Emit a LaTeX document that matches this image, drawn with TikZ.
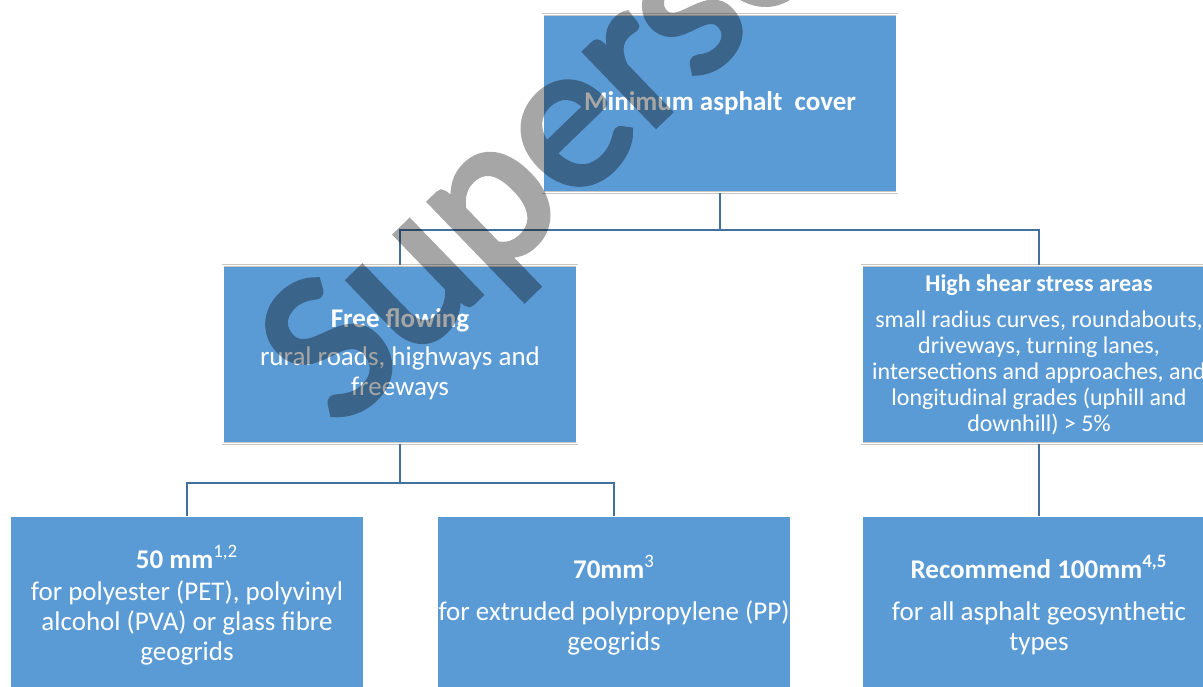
\documentclass[tikz,border=0pt]{standalone}
\usepackage{fontspec}
\setmainfont{Carlito}
\newfontfamily\markfont[FakeBold=3,BoldFont={Carlito}]{Carlito}
\usepackage{tikz}
\usetikzlibrary{positioning}

\definecolor{boxblue}{HTML}{5B9BD5}
\definecolor{linkblue}{HTML}{41719C}

\begin{document}
\begin{tikzpicture}[x=0.5pt,y=-0.5pt,
   box/.style={fill=boxblue,draw=black!22,double=white,double distance=0.6pt,line width=0.35pt,
               minimum width=177pt,minimum height=89pt,inner sep=0.5pt,align=center,
               text=white,font=\fontsize{13.5}{15}\selectfont},
   link/.style={draw=linkblue,line width=1pt}]
   \path[use as bounding box,clip] (0,0) rectangle (1203,686);

   \node[box] (top)     at (720,103.5) {\textbf{Minimum asphalt~ cover}};
   \node[box] (free)    at (400,354.5) {\textbf{Free flowing}\\[4pt]rural roads, highways and\\freeways};
   \node[box,font=\fontsize{12}{13}\selectfont] (shear) at (1039,354.5)
        {\textbf{High shear stress areas}\\[5pt]small radius curves, roundabouts,\\driveways, turning lanes,\\intersections and approaches, and\\longitudinal grades (uphill and\\downhill) > 5\%};
   \node[box] (fifty)   at (187,605) {\textbf{50 mm}\textsuperscript{1,2}\\[1pt]for polyester (PET), polyvinyl\\alcohol (PVA) or glass fibre\\geogrids};
   \node[box] (seventy) at (614,605) {\textbf{70mm}\textsuperscript{3}\\[6pt]for extruded polypropylene (PP)\\geogrids};
   \node[box] (rec)     at (1039,605) {\textbf{Recommend 100mm\textsuperscript{4,5}}\\[6pt]for all asphalt geosynthetic\\types};

   \path[link] (top.south) -- ++(0,37) -| (free.north)
               (top.south) -- ++(0,37) -| (shear.north)
               (free.south) -- ++(0,39) -| (fifty.north)
               (free.south) -- ++(0,39) -| (seventy.north)
               (shear.south) -- (rec.north);

   % watermark
   \begin{scope}[transparency group,opacity=0.35]
   \node[anchor=base west,rotate=44,text=black,inner sep=0pt,
         font=\markfont\bfseries\fontsize{106}{106}\selectfont] (mark) at (340,430) {Superseded};
   \end{scope}
\end{tikzpicture}
\end{document}
